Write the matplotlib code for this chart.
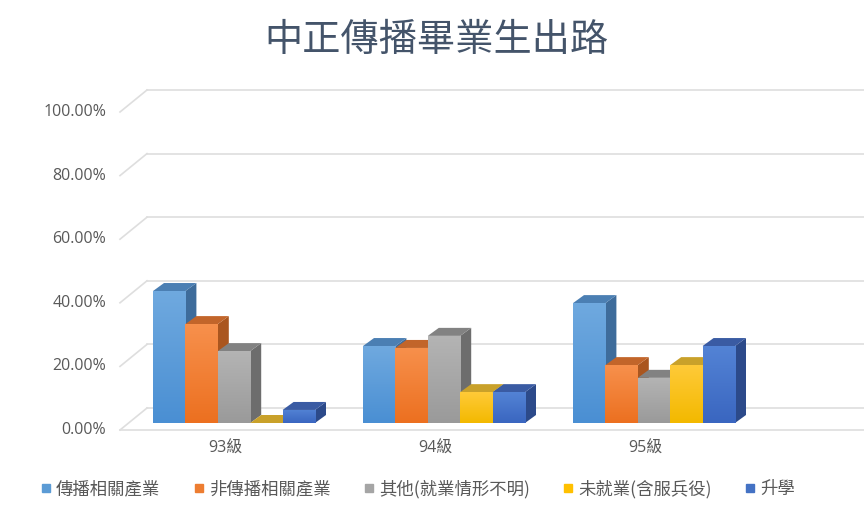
import numpy as np
import matplotlib
matplotlib.use("Agg")
import matplotlib.pyplot as plt
from matplotlib.patches import Polygon, Rectangle
from matplotlib.colors import LinearSegmentedColormap
from matplotlib.lines import Line2D

plt.rcParams['font.family'] = ['Open Sans', 'Noto Sans CJK TC', 'DejaVu Sans']

# data
title = '中正傳播畢業生出路'
years = ['93級', '94級', '95級']
series = ['傳播相關產業', '非傳播相關產業', '其他(就業情形不明)', '未就業(含服兵役)', '升學']
media = [0.415, 0.242, 0.377]
non_media = [0.311, 0.236, 0.182]
other = [0.226, 0.274, 0.142]
unemployed = [0.0, 0.097, 0.182]
study = [0.041, 0.097, 0.242]
values = [media, non_media, other, unemployed, study]
yticks = [0.0, 0.2, 0.4, 0.6, 0.8, 1.0]

front_top = ['#6fa9df', '#f7904c', '#b4b4b4', '#ffca38', '#5383d5']
front_bot = ['#4a8fd3', '#ec7020', '#9a9a9a', '#f3b900', '#3a66c0']
side_col = ['#3e6c9b', '#aa561f', '#6d6d6d', '#b88b00', '#2c4a8a']
top_col = ['#4b7fb3', '#c2652a', '#828282', '#c9a12a', '#3a5ba3']
legend_col = ['#5b9bd5', '#ed7d31', '#a5a5a5', '#ffc000', '#4472c4']
grid_col = '#dedede'
text_col = '#595959'

W, H = 864, 513
fig = plt.figure(figsize=(W / 100, H / 100), dpi=100)
ax_l, ax_b, ax_w, ax_h = 129, 90, W - 129, 318
ax = fig.add_axes([ax_l / W, ax_b / H, ax_w / W, ax_h / H])
xlim = (-0.5, 3.0)
ax.set_xlim(*xlim)
ax.set_ylim(0, 1)
ax.axis('off')

# pixel -> data unit helpers
px_x = (xlim[1] - xlim[0]) / ax_w
px_y = 1.0 / ax_h


def depth(dx, dy):
    return dx * px_x, dy * px_y


bar_d = depth(11, 8)      # bar depth
back_d = depth(18, 15)    # back wall
front_d = depth(-9, -7)   # front floor edge

# walls / gridlines
for v in yticks:
    ax.add_line(Line2D([xlim[0] + back_d[0], xlim[1] + 0.1], [v + back_d[1]] * 2,
                       color=grid_col, lw=1.2, clip_on=False, zorder=0))
    ax.add_line(Line2D([xlim[0] + front_d[0], xlim[0] + back_d[0]],
                       [v + front_d[1], v + back_d[1]],
                       color=grid_col, lw=1.2, clip_on=False, zorder=0))
    ax.text(xlim[0] + front_d[0] - 14 * px_x, v + front_d[1], f'{v * 100:.2f}%',
            ha='right', va='center', fontsize=11.5, color=text_col)
ax.add_line(Line2D([xlim[0] + front_d[0], xlim[1] + 0.1], [front_d[1]] * 2,
                   color=grid_col, lw=1.2, clip_on=False, zorder=0))

# bars
w = 32.4 * px_x
x = np.arange(len(years))
z = 2
grad = np.linspace(1, 0, 64).reshape(-1, 1)
for i in range(len(years)):
    for k in range(len(series)):
        v = values[k][i]
        x0 = x[i] + (k - 2.5) * w
        x1 = x0 + w
        dx, dy = bar_d
        ax.add_patch(Polygon([(x1, 0), (x1 + dx, dy), (x1 + dx, v + dy), (x1, v)],
                             closed=True, fc=side_col[k], ec='none', zorder=z, clip_on=False))
        ax.add_patch(Polygon([(x0, v), (x0 + dx, v + dy), (x1 + dx, v + dy), (x1, v)],
                             closed=True, fc=top_col[k], ec='none', zorder=z, clip_on=False))
        if v > 0:
            rect = Rectangle((x0, 0), w, v, fc='none', ec='none', zorder=z)
            ax.add_patch(rect)
            cmap = LinearSegmentedColormap.from_list('g%d' % k, [front_bot[k], front_top[k]])
            im = ax.imshow(grad, cmap=cmap, extent=(x0, x1, 0, v), aspect='auto',
                           zorder=z + 0.5, vmin=0, vmax=1)
            im.set_clip_path(rect)
        z += 1
    ax.text(x[i] + front_d[0], front_d[1] - 19 * px_y, years[i], ha='center', va='center',
            fontsize=11.5, color=text_col)

ax.set_xlim(*xlim)
ax.set_ylim(0, 1)

# title
fig.text(436 / W, 1 - 40 / H, title, ha='center', va='center', fontsize=27.5,
         color='#44546a', family=['Noto Sans CJK TC'], fontweight='medium')

# legend
handles = [Line2D([], [], marker='s', ls='none', markersize=6, color=c) for c in legend_col]
fig.legend(handles, series, loc='center', bbox_to_anchor=(418 / W, 1 - 489 / H), ncol=5,
           frameon=False, handlelength=0.6, handletextpad=0.3,
           columnspacing=1.9, labelcolor=text_col,
           prop={'family': ['Noto Sans CJK TC'], 'size': 12.5, 'weight': 'light'})

fig.savefig('out.png', dpi=100)
